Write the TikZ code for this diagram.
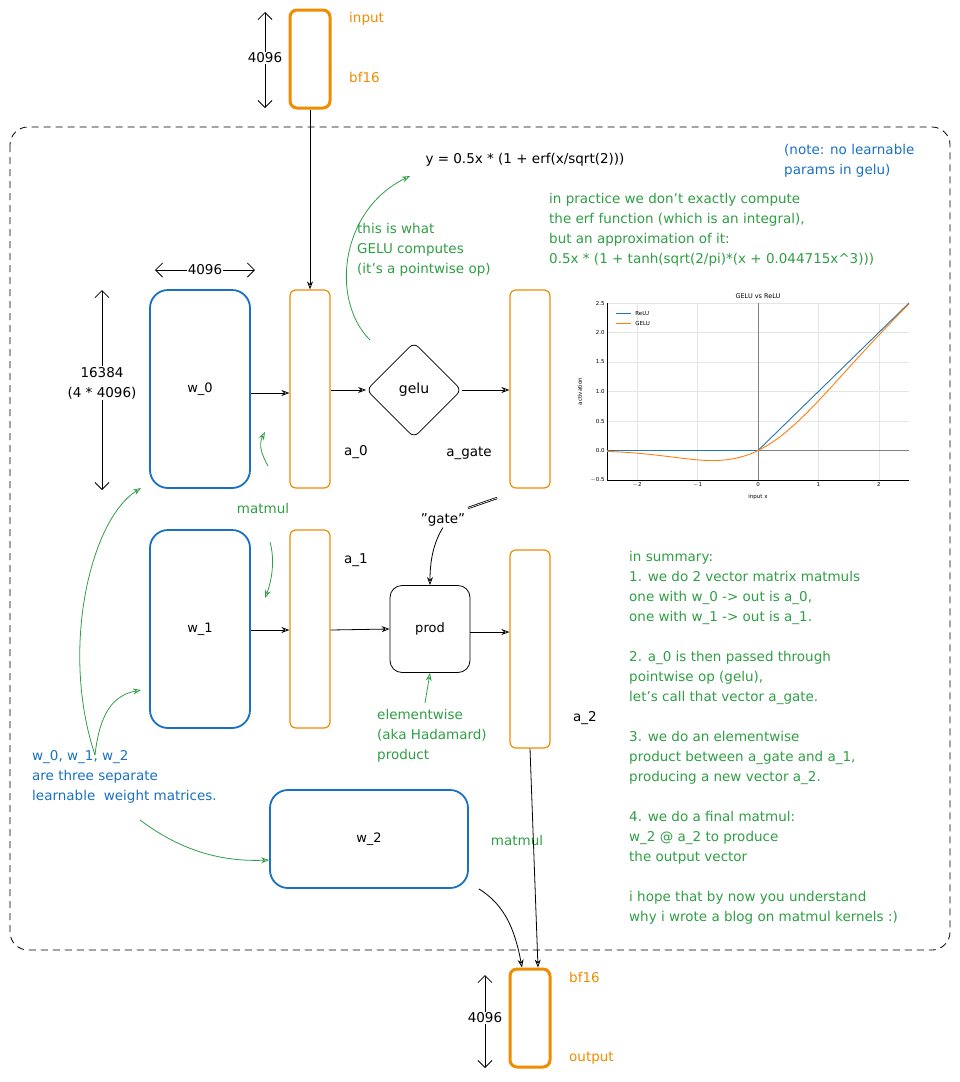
\documentclass[tikz,border=0pt]{standalone}
\usepackage{fontspec}
\setmainfont{DejaVu Sans}
\usetikzlibrary{shapes.geometric,arrows.meta}
\definecolor{ora}{HTML}{F08C00}
\definecolor{blu}{HTML}{1971C2}
\definecolor{gre}{HTML}{2F9E44}
\definecolor{plblue}{HTML}{1F77B4}
\definecolor{plora}{HTML}{FF7F0E}
\begin{document}
\begin{tikzpicture}[x=1pt,y=-1pt,
  txt/.style={font=\fontsize{13.5}{20}\selectfont,align=left,inner sep=1pt},
  vec/.style={draw=ora,line width=1.2pt,rounded corners=6pt,minimum width=40pt,minimum height=198pt,inner sep=0},
  io/.style={draw=ora,line width=3pt,rounded corners=7pt,minimum width=40pt,minimum height=98pt,inner sep=0},
  mat/.style={draw=blu,line width=1.8pt,rounded corners=18pt,inner sep=0,font=\fontsize{13}{16}\selectfont},
  arr/.style={-{Stealth[length=8pt,width=6pt,open]},line width=0.8pt},
  garr/.style={arr,draw=gre},
  dim/.style={{Straight Barb[length=7pt]}-{Straight Barb[length=7pt]},line width=0.8pt}]
\useasboundingbox (0,0) rectangle (960,1082);
\draw[dash pattern=on 7pt off 5pt,line width=0.8pt,rounded corners=18pt] (10,127) rectangle (950,950);

% input
\node[io] (in) at (310,59) {};
\node[txt,text=ora,anchor=west] (inl) at (348,19) {input};
\node[txt,text=ora,anchor=west] (inb) at (348,77) {bf16};
\coordinate (d1a) at (265,12); \coordinate (d1b) at (265,108);
\draw[dim] (d1a) -- (d1b);
\node[txt,fill=white] (d1) at (265,58) {4096};

% row 0
\node[mat,minimum width=100pt,minimum height=198pt] (w0) at (200,389) {w\_0};
\node[vec] (a0) at (310,389) {};
\node[diamond,draw,line width=0.8pt,rounded corners=6pt,minimum width=95pt,minimum height=95pt,inner sep=0,font=\fontsize{14}{16}\selectfont] (gelu) at (414,390) {gelu};
\node[vec] (ag) at (530,389) {};
\node[txt] (a0l) at (356,452) {a\_0};
\node[txt] (agl) at (469,453) {a\_gate};
\draw[arr] (in.south) -- (a0.north);
\draw[arr] (w0.east |- 0,393) -- (a0.west |- 0,393);
\draw[arr] (a0.east |- 0,390) -- (gelu.west);
\draw[arr] (gelu.east) -- (ag.west |- 0,390);

\coordinate (d2a) at (155,270); \coordinate (d2b) at (255,270);
\draw[dim] (d2a) -- (d2b);
\node[txt,fill=white] (d2) at (205,270) {4096};
\coordinate (d3a) at (102,290); \coordinate (d3b) at (102,490);
\draw[dim] (d3a) -- (d3b);
\node[txt,fill=white,align=center] (d3) at (102,383) {16384\\(4 * 4096)};

\node[txt] (form) at (525,160) {y = 0.5x * (1 + erf(x/sqrt(2)))};
\node[txt,text=blu,anchor=north west] (note) at (783,143) {(note: no learnable\\params in gelu)};
\node[txt,text=gre,anchor=north west] (prac) at (548,192) {in practice we don't exactly compute\\the erf function (which is an integral),\\but an approximation of it:\\0.5x * (1 + tanh(sqrt(2/pi)*(x + 0.044715x\^{}3)))};
\node[txt,text=gre,anchor=north west] (what) at (356,222) {this is what\\GELU computes\\(it's a pointwise op)};
\coordinate (ga) at (370,340); \coordinate (gb) at (410,176);
\draw[garr] (ga) .. controls (330,300) and (340,210) .. (gb);

% matmul green
\node[txt,text=gre] (mm1) at (263,508) {matmul};
\coordinate (m1a) at (268,466); \coordinate (m1b) at (265,432);
\draw[garr] (m1a) .. controls (262,455) and (258,445) .. (m1b);
\coordinate (m2a) at (270,542); \coordinate (m2b) at (265,598);
\draw[garr] (m2a) .. controls (275,560) and (272,580) .. (m2b);

% row 1
\node[mat,minimum width=100pt,minimum height=198pt] (w1) at (200,629) {w\_1};
\node[vec] (a1) at (310,629) {};
\node[txt] (a1l) at (356,560) {a\_1};
\node[draw,line width=0.8pt,rounded corners=12pt,minimum width=80pt,minimum height=87pt,font=\fontsize{13}{16}\selectfont] (prod) at (430,629) {prod};
\node[vec] (a2) at (530,649) {};
\node[txt] (a2l) at (585,718) {a\_2};
\draw[arr] (w1.east |- 0,630) -- (a1.west |- 0,630);
\draw[arr] (a1.east |- 0,630) -- (prod.west);
\draw[arr] (prod.east |- 0,632) -- (a2.west |- 0,632);

\node[txt] (gate) at (443,520) {"gate"};
\draw[line width=0.8pt,double] (497,498) -- (468,508);
\draw[arr] (gate.south) .. controls (432,545) and (430,565) .. (prod.north);

\node[txt,text=gre,anchor=north west] (elem) at (376,708) {elementwise\\(aka Hadamard)\\product};
\coordinate (ea) at (425,703);
\draw[garr] (ea) -- (prod.south);

\node[txt,text=blu,anchor=north west] (wtxt) at (31,749) {w\_0, w\_1, w\_2\\are three separate\\learnable\ \ weight matrices.};
\coordinate (wa) at (95,755);
\draw[garr] (wa) .. controls (60,650) and (90,520) .. (141,488);
\draw[garr] (wa) .. controls (100,710) and (115,695) .. (141,690);
\coordinate (wb) at (140,820);
\node[mat,minimum width=198pt,minimum height=98pt] (w2) at (369,839) {w\_2};
\draw[garr] (wb) .. controls (180,850) and (220,862) .. (w2.west |- 0,860);

\node[txt,text=gre] (mm2) at (517,840) {matmul};

% output
\node[io] (out) at (530,1018) {};
\node[txt,text=ora,anchor=west] (ob) at (568,977) {bf16};
\node[txt,text=ora,anchor=west] (ol) at (568,1058) {output};
\coordinate (d4a) at (485,975); \coordinate (d4b) at (485,1068);
\draw[dim] (d4a) -- (d4b);
\node[txt,fill=white] (d4) at (485,1018) {4096};
\draw[arr] (a2.south) -- ([xshift=8pt]out.north);
\draw[arr] (w2.south east) ++(10pt,0) .. controls (505,905) and (515,930) .. ([xshift=-8pt]out.north);

% summary
\node[txt,text=gre,anchor=north west] (sum) at (628,550) {in summary:\\1. we do 2 vector matrix matmuls\\one with w\_0 -> out is a\_0,\\one with w\_1 -> out is a\_1.\\[20pt]2. a\_0 is then passed through\\pointwise op (gelu),\\let's call that vector a\_gate.\\[20pt]3. we do an elementwise\\product between a\_gate and a\_1,\\producing a new vector a\_2.\\[20pt]4. we do a final matmul:\\w\_2 @ a\_2 to produce\\the output vector\\[20pt]i hope that by now you understand\\why i wrote a blog on matmul kernels :)};

% plot
\begin{scope}[shift={(758,450.5)},x=60.4pt,y=59pt,font=\fontsize{5.5}{6}\selectfont]
\foreach \xx in {-2,-1,0,1,2} \draw[black!10,line width=0.3pt] (\xx,-0.5) -- (\xx,2.5);
\foreach \yy in {-0.5,0,0.5,1,1.5,2,2.5} \draw[black!10,line width=0.3pt] (-2.5,\yy) -- (2.5,\yy);
\draw[black!50,line width=0.5pt] (0,-0.5) -- (0,2.5);
\draw[black!50,line width=0.5pt] (-2.5,0) -- (2.5,0);
\draw[line width=0.5pt] (-2.5,2.5) -- (-2.5,-0.5) -- (2.5,-0.5);
\foreach \xx/\l in {-2/$-$2,-1/$-$1,0/0,1/1,2/2} \node[anchor=north,inner sep=1pt] at (\xx,-0.52) {\l};
\foreach \yy/\l in {-0.5/$-$0.5,0/0.0,0.5/0.5,1/1.0,1.5/1.5,2/2.0,2.5/2.5} \node[anchor=east,inner sep=1pt] at (-2.52,\yy) {\l};
\node at (0,-0.78) {input x};
\node[rotate=90] at (-2.95,1) {activation};
\node[font=\fontsize{6.5}{7}\selectfont] at (0,2.62) {GELU vs ReLU};
\draw[plblue,line width=0.9pt] (-2.5,0) -- (0,0) -- (2.5,2.5);
\draw[plora,line width=0.9pt] plot[domain=-2.5:2.5,samples=80,smooth] (\x,{0.5*\x*(1+tanh(0.7978846*(\x+0.044715*\x*\x*\x)))});
\draw[plblue,line width=0.9pt] (-2.35,2.32) -- (-2.1,2.32); \node[anchor=west,inner sep=1pt] at (-2.05,2.32) {ReLU};
\draw[plora,line width=0.9pt] (-2.35,2.15) -- (-2.1,2.15); \node[anchor=west,inner sep=1pt] at (-2.05,2.15) {GELU};
\end{scope}
\end{tikzpicture}
\end{document}
